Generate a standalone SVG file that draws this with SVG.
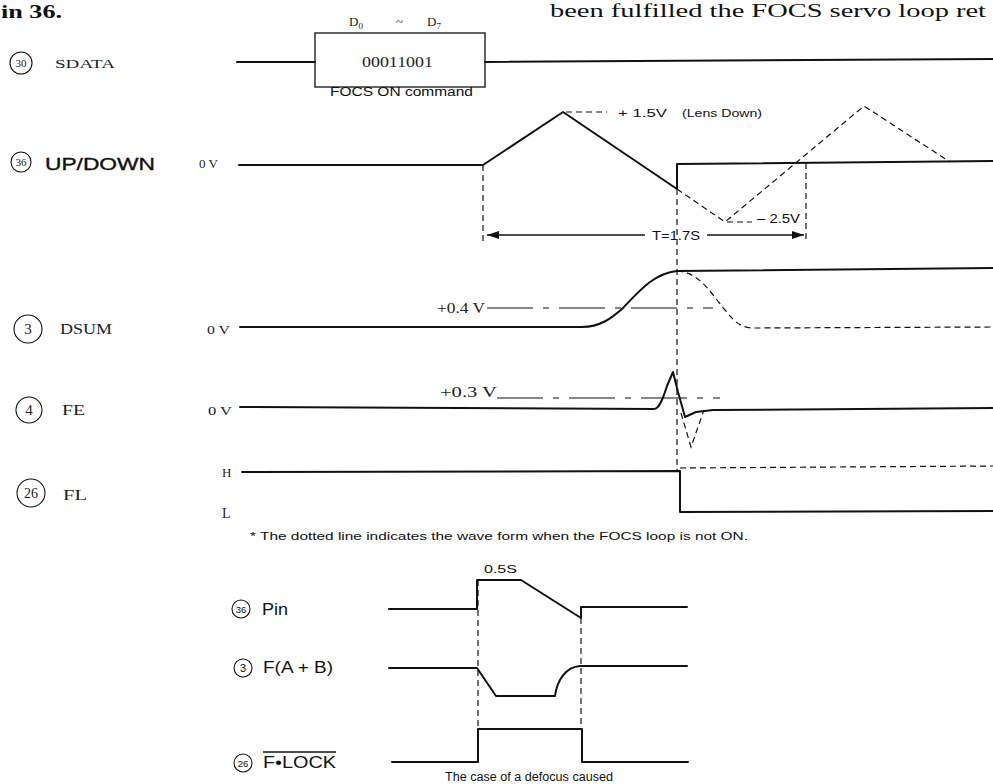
<svg xmlns="http://www.w3.org/2000/svg" width="993" height="784" viewBox="0 0 993 784">
<defs>
<style>
.bg{fill:#fff}
.w{fill:none;stroke:#111;stroke-width:2;stroke-linejoin:round;stroke-linecap:round}
.d{fill:none;stroke:#111;stroke-width:1.2;stroke-dasharray:6 4}
.dd{fill:none;stroke:#111;stroke-width:1.2;stroke-dasharray:46 10 6 10}
.thin{fill:none;stroke:#111;stroke-width:1.3}
.c{fill:none;stroke:#111;stroke-width:1.1}
.serif{font-family:"Liberation Serif","Times New Roman",serif;fill:#222}
.sans{font-family:"Liberation Sans",Arial,sans-serif;fill:#111}
.b{font-weight:bold}
</style>
<marker id="ah" viewBox="0 0 12 8" refX="12" refY="4" markerWidth="12" markerHeight="8" markerUnits="userSpaceOnUse" orient="auto">
<path d="M0,0 L12,4 L0,8 Z" fill="#111"/>
</marker>
</defs>
<rect class="bg" x="0" y="0" width="993" height="784"/>

<g id="page-text">
<text class="serif b" x="1" y="18" font-size="19" textLength="61" lengthAdjust="spacingAndGlyphs" style="fill:#111">in 36.</text>
<text class="serif" x="550" y="17" font-size="18" textLength="436" lengthAdjust="spacingAndGlyphs" style="fill:#111">been fulfilled the FOCS servo loop ret</text>
</g>

<g id="sdata">
<circle class="c" cx="21" cy="63" r="11"/>
<text class="serif" x="21" y="67" font-size="11" text-anchor="middle">30</text>
<text class="serif" x="55" y="68" font-size="12" textLength="60" lengthAdjust="spacingAndGlyphs">SDATA</text>
<path class="w" d="M237,62 L315,62 M485,62 L993,59"/>
<rect class="thin" x="315" y="33" width="170" height="54"/>
<text class="serif" x="362" y="67" font-size="14" textLength="71" lengthAdjust="spacingAndGlyphs">00011001</text>
<text class="serif" x="349" y="26" font-size="13">D<tspan font-size="9" dy="3">0</tspan></text>
<text class="serif" x="396" y="26" font-size="13">~</text>
<text class="serif" x="427" y="26" font-size="13">D<tspan font-size="9" dy="3">7</tspan></text>
<text class="sans" x="330" y="96" font-size="12" textLength="143" lengthAdjust="spacingAndGlyphs">FOCS ON command</text>
</g>

<g id="updown">
<circle class="c" cx="21" cy="162" r="10"/>
<text class="serif" x="21" y="166" font-size="11" text-anchor="middle">36</text>
<text class="sans" x="45" y="170" font-size="17" textLength="110" lengthAdjust="spacingAndGlyphs" style="stroke:#111;stroke-width:0.35">UP/DOWN</text>
<text class="serif" x="199" y="168" font-size="12" textLength="19" lengthAdjust="spacingAndGlyphs">0 V</text>
<path class="w" d="M239,165 L483,165 L563,112 L677,189 L677,164 L993,161"/>
<path class="d" d="M677,189 L725,222 L864,106 L950,162"/>
<path class="d" d="M566,112 L607,112"/>
<text class="sans" x="618" y="117" font-size="11" textLength="49" lengthAdjust="spacingAndGlyphs">+ 1.5V</text>
<text class="sans" x="682" y="117" font-size="11" textLength="80" lengthAdjust="spacingAndGlyphs">(Lens Down)</text>
<path class="d" d="M727,222 L752,222"/>
<text class="sans" x="757" y="223" font-size="12" textLength="43" lengthAdjust="spacingAndGlyphs">– 2.5V</text>
</g>

<g id="dsum">
<circle class="c" cx="28" cy="329" r="14"/>
<text class="serif" x="28" y="334" font-size="15" text-anchor="middle">3</text>
<text class="serif" x="60" y="334" font-size="14" textLength="52" lengthAdjust="spacingAndGlyphs">DSUM</text>
<text class="serif" x="207" y="334" font-size="13" textLength="23" lengthAdjust="spacingAndGlyphs">0 V</text>
<path class="w" d="M240,327 L582,327 C600,327 612,318 623,308 C640,290 655,273 677,271 L993,268"/>
<path class="d" d="M677,271 C700,272 712,295 725,310 C735,322 740,328 755,328 L993,327"/>
<text class="serif" x="437" y="313" font-size="14" textLength="48" lengthAdjust="spacingAndGlyphs">+0.4 V</text>
<path class="dd" d="M487,308 L713,308"/>
</g>

<g id="fe">
<circle class="c" cx="29" cy="410" r="13"/>
<text class="serif" x="29" y="415" font-size="15" text-anchor="middle">4</text>
<text class="serif" x="62" y="415" font-size="14" textLength="23" lengthAdjust="spacingAndGlyphs">FE</text>
<text class="serif" x="208" y="415" font-size="13" textLength="24" lengthAdjust="spacingAndGlyphs">0 V</text>
<path class="w" d="M240,407 L654,409 C660,409 664,395 667,386 L673,372 L678,392 L685,417 L696,412 L713,410 L993,408"/>
<path class="d" d="M681,413 L691,447 L704,410"/>
<text class="serif" x="440" y="397" font-size="14" textLength="57" lengthAdjust="spacingAndGlyphs">+0.3 V</text>
<path class="dd" d="M497,398 L720,398"/>
</g>

<g id="fl">
<circle class="c" cx="31" cy="493" r="14"/>
<text class="serif" x="31" y="498" font-size="14" text-anchor="middle">26</text>
<text class="serif" x="63" y="500" font-size="14" textLength="24" lengthAdjust="spacingAndGlyphs">FL</text>
<text class="serif" x="222" y="477" font-size="13">H</text>
<text class="serif" x="222" y="518" font-size="14">L</text>
<path class="w" d="M242,472 L680,471 L680,512 L993,511"/>
<path class="d" d="M680,468 L993,466"/>
<text class="sans" x="250" y="540" font-size="11.5" textLength="498" lengthAdjust="spacingAndGlyphs">* The dotted line indicates the wave form when the FOCS loop is not ON.</text>
</g>

<g id="pin36">
<circle class="c" cx="241" cy="609" r="9"/>
<text class="sans" x="241" y="612.5" font-size="9.5" text-anchor="middle">36</text>
<text class="sans" x="262" y="615" font-size="16" textLength="26" lengthAdjust="spacingAndGlyphs">Pin</text>
<text class="sans" x="484" y="573" font-size="11" textLength="33" lengthAdjust="spacingAndGlyphs">0.5S</text>
<path class="w" d="M389,609 L477,609 L477,580 L521,580 L581,618 L581,607 L687,607"/>
</g>

<g id="fab">
<circle class="c" cx="243" cy="668" r="9"/>
<text class="sans" x="243" y="672" font-size="11" text-anchor="middle">3</text>
<text class="sans" x="263" y="673" font-size="16" textLength="70" lengthAdjust="spacingAndGlyphs">F(A + B)</text>
<path class="w" d="M389,668 L477,668 L496,696 L555,696 C557,680 566,667 580,666 L687,666"/>
</g>

<g id="flock">
<circle class="c" cx="243" cy="763" r="9"/>
<text class="sans" x="243" y="766.5" font-size="9.5" text-anchor="middle">26</text>
<text class="sans" x="263" y="768" font-size="16" textLength="73" lengthAdjust="spacingAndGlyphs">F•LOCK</text>
<path class="thin" d="M263,752 L336,752"/>
<path class="w" d="M392,762 L478,762 L478,729 L582,729 L582,762 L688,762"/>
<text class="sans" x="445" y="781" font-size="12" textLength="168" lengthAdjust="spacingAndGlyphs">The case of a defocus caused</text>
</g>

<g id="connectors">
<path class="d" d="M483,165 L483,245"/>
<path class="d" d="M677,189 L677,471"/>
<path class="d" d="M806,163 L806,240"/>
<path class="thin" d="M645,235 L487,235" marker-end="url(#ah)"/>
<path class="thin" d="M707,235 L804,235" marker-end="url(#ah)"/>
<text class="sans" x="652" y="240" font-size="12" textLength="48" lengthAdjust="spacingAndGlyphs">T=1.7S</text>
<path class="d" d="M478,580 L478,729"/>
<path class="d" d="M581,618 L581,729"/>
</g>
</svg>
